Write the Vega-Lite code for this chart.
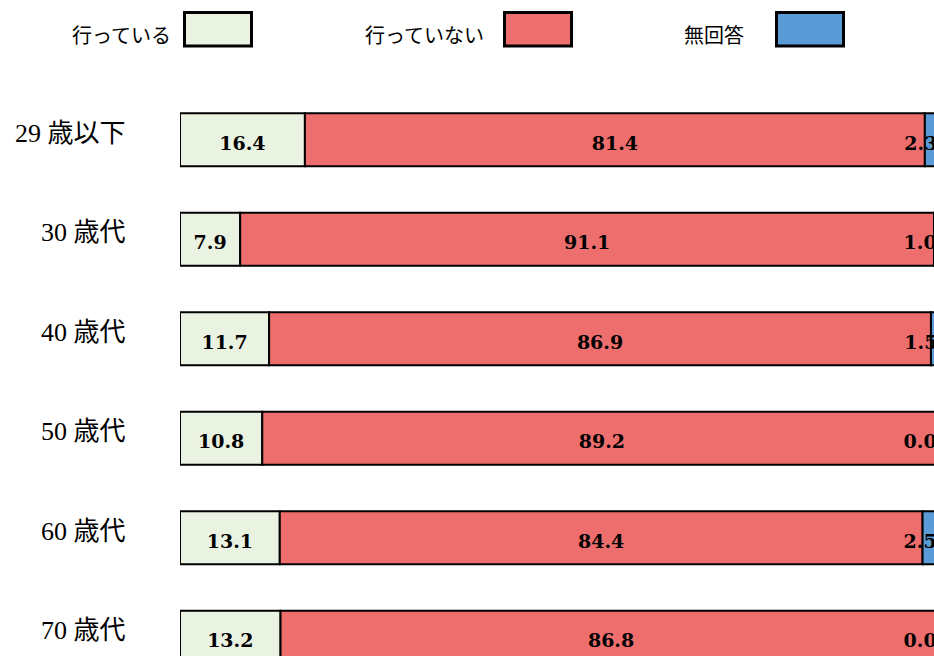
{
  "$schema": "https://vega.github.io/schema/vega-lite/v6.json",
  "width": 754,
  "height": 566,
  "autosize": {"type": "none"},
  "padding": {"left": 180, "top": 90, "right": 0, "bottom": 0},
  "background": "white",
  "config": {"view": {"stroke": null}},
  "data": {
    "values": [
      {"age": "29 歳以下", "cat": "行っている", "v": 16.4},
      {"age": "29 歳以下", "cat": "行っていない", "v": 81.4},
      {"age": "29 歳以下", "cat": "無回答", "v": 2.3},
      {"age": "30 歳代", "cat": "行っている", "v": 7.9},
      {"age": "30 歳代", "cat": "行っていない", "v": 91.1},
      {"age": "30 歳代", "cat": "無回答", "v": 1.0},
      {"age": "40 歳代", "cat": "行っている", "v": 11.7},
      {"age": "40 歳代", "cat": "行っていない", "v": 86.9},
      {"age": "40 歳代", "cat": "無回答", "v": 1.5},
      {"age": "50 歳代", "cat": "行っている", "v": 10.8},
      {"age": "50 歳代", "cat": "行っていない", "v": 89.2},
      {"age": "50 歳代", "cat": "無回答", "v": 0.0},
      {"age": "60 歳代", "cat": "行っている", "v": 13.1},
      {"age": "60 歳代", "cat": "行っていない", "v": 84.4},
      {"age": "60 歳代", "cat": "無回答", "v": 2.5},
      {"age": "70 歳代", "cat": "行っている", "v": 13.2},
      {"age": "70 歳代", "cat": "行っていない", "v": 86.8},
      {"age": "70 歳代", "cat": "無回答", "v": 0.0}
    ]
  },
  "transform": [
    {"calculate": "indexof(['行っている','行っていない','無回答'], datum.cat)", "as": "ord"},
    {"stack": "v", "groupby": ["age"], "sort": [{"field": "ord", "order": "ascending"}], "as": ["x0", "x1"]},
    {"calculate": "(datum.x0 + datum.x1) / 2", "as": "xm"}
  ],
  "encoding": {
    "y": {
      "field": "age",
      "type": "nominal",
      "sort": ["29 歳以下", "30 歳代", "40 歳代", "50 歳代", "60 歳代", "70 歳代"],
      "scale": {"range": [0, 597], "paddingInner": 0.467, "paddingOuter": 0.2335},
      "axis": {
        "title": null,
        "domain": false,
        "ticks": false,
        "grid": false,
        "labelPadding": 55,
        "labelOffset": -6,
        "labelFont": "Liberation Serif, Noto Sans CJK JP",
        "labelFontSize": 26,
        "labelColor": "black"
      }
    }
  },
  "layer": [
    {
      "mark": {"type": "bar", "stroke": "black", "strokeWidth": 2, "clip": true, "opacity": 1},
      "encoding": {
        "x": {"field": "x0", "type": "quantitative", "scale": {"domain": [0, 99], "nice": false, "zero": true}, "axis": null},
        "x2": {"field": "x1"},
        "color": {
          "field": "cat",
          "type": "nominal",
          "scale": {"domain": ["行っている", "行っていない", "無回答"], "range": ["#eaf2e2", "#ee6e6e", "#5a9ad6"]},
          "legend": {
            "orient": "none",
            "legendX": 3,
            "legendY": -96,
            "direction": "horizontal",
            "title": null,
            "padding": 0,
            "symbolType": "M-1,-0.5H1V0.5H-1Z",
            "symbolSize": 4489,
            "symbolStrokeColor": "black",
            "symbolStrokeWidth": 3,
            "symbolOpacity": 1,
            "labelFont": "Noto Sans CJK JP",
            "labelFontSize": 20,
            "labelColor": "black",
            "labelAlign": "right",
            "labelOffset": -82,
            "labelLimit": 300,
            "columnPadding": 106,
            "encode": {
              "labels": {
                "update": {
                  "dy": {"value": 8},
                  "dx": {"signal": "datum.value === '行っていない' ? -7 : datum.value === '無回答' ? -19 : 0"}
                }
              }
            }
          }
        }
      }
    },
    {
      "transform": [{"filter": "datum.cat !== '無回答'"}],
      "mark": {"type": "text", "font": "DejaVu Serif", "fontWeight": "bold", "fontSize": 19, "color": "black", "dy": 4, "clip": true},
      "encoding": {
        "x": {"field": "xm", "type": "quantitative"},
        "text": {"field": "v", "type": "quantitative", "format": ".1f"}
      }
    },
    {
      "transform": [{"filter": "datum.cat === '無回答'"}],
      "mark": {"type": "text", "font": "DejaVu Serif", "fontWeight": "bold", "fontSize": 19, "color": "black", "dy": 4, "align": "right", "dx": -5, "clip": true},
      "encoding": {
        "x": {"field": "x1", "type": "quantitative"},
        "text": {"field": "v", "type": "quantitative", "format": ".1f"}
      }
    }
  ]
}
